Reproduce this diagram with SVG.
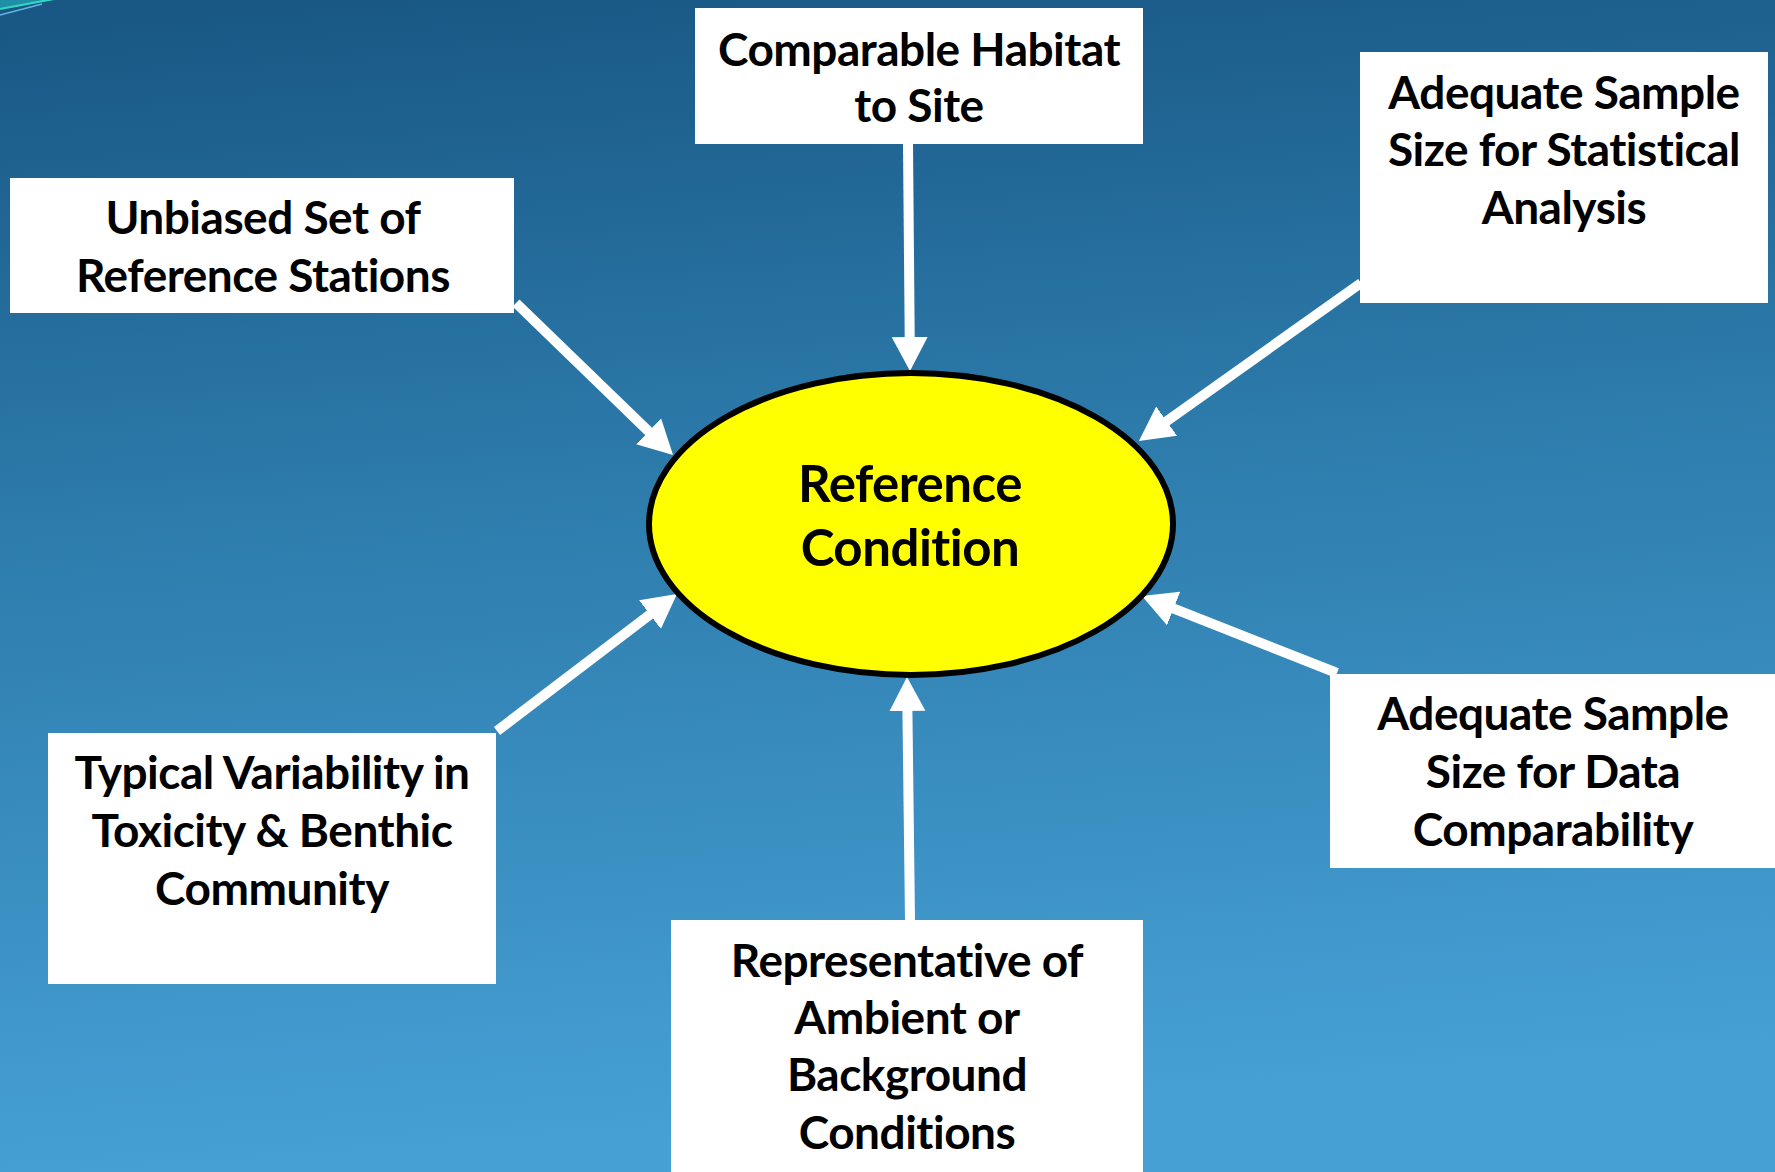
<svg xmlns="http://www.w3.org/2000/svg" width="1775" height="1172" viewBox="0 0 1775 1172">
  <defs>
    <linearGradient id="bg" x1="0" y1="0" x2="0.12" y2="1">
      <stop offset="0" stop-color="#185683"/>
      <stop offset="0.45" stop-color="#2d7cac"/>
      <stop offset="1" stop-color="#46a0d4"/>
    </linearGradient>
    <marker id="head" markerUnits="userSpaceOnUse" markerWidth="36" markerHeight="38" refX="10" refY="19" orient="auto">
      <path d="M0,1 L34,19 L0,37 Z" fill="#ffffff"/>
    </marker>
    <style>
      .box { fill: #ffffff; }
      .lbl { font-family: Lato, "Open Sans", "Liberation Sans", sans-serif; font-weight: 700; font-size: 46px; letter-spacing: -0.5px; font-variant-ligatures: none; fill: #000000; text-anchor: middle; }
      .big { font-size: 51px; }
      .arr { stroke: #ffffff; stroke-width: 10; fill: none; marker-end: url(#head); }
    </style>
  </defs>

  <rect x="0" y="0" width="1775" height="1172" fill="url(#bg)"/>
  <path d="M0,0 L52,0 L0,9 Z" fill="#1f8fa8"/>
  <line x1="0" y1="9" x2="54" y2="-1" stroke="#33d6c2" stroke-width="2.2"/>
  <line x1="0" y1="15" x2="42" y2="4" stroke="#63b6e0" stroke-width="1.6"/>

  <g id="connectors">
    <line class="arr" x1="908" y1="144" x2="909.8" y2="347"/>
    <line class="arr" x1="516" y1="303" x2="655.8" y2="438.3"/>
    <line class="arr" x1="1361" y1="283" x2="1158.5" y2="427"/>
    <line class="arr" x1="1337" y1="673" x2="1164.3" y2="604.8"/>
    <line class="arr" x1="497" y1="731" x2="657.9" y2="608.5"/>
    <line class="arr" x1="910" y1="920" x2="907.3" y2="701"/>
  </g>

  <g id="reference-condition">
    <ellipse cx="911" cy="524" rx="262" ry="151" fill="#ffff00" stroke="#000000" stroke-width="6"/>
    <text class="lbl big" x="910" y="502">Reference</text>
    <text class="lbl big" x="910" y="566">Condition</text>
  </g>

  <g id="comparable-habitat">
    <rect class="box" x="695" y="8" width="448" height="136"/>
    <text class="lbl" x="919" y="66">Comparable Habitat</text>
    <text class="lbl" x="919" y="122">to Site</text>
  </g>

  <g id="unbiased-set">
    <rect class="box" x="10" y="178" width="504" height="135"/>
    <text class="lbl" x="263" y="234">Unbiased Set of</text>
    <text class="lbl" x="263" y="292">Reference Stations</text>
  </g>

  <g id="sample-size-statistical">
    <rect class="box" x="1360" y="52" width="408" height="251"/>
    <text class="lbl" x="1564" y="109">Adequate Sample</text>
    <text class="lbl" x="1564" y="166">Size for Statistical</text>
    <text class="lbl" x="1564" y="224">Analysis</text>
  </g>

  <g id="sample-size-data">
    <rect class="box" x="1330" y="674" width="445" height="194"/>
    <text class="lbl" x="1553" y="730">Adequate Sample</text>
    <text class="lbl" x="1553" y="788">Size for Data</text>
    <text class="lbl" x="1553" y="846">Comparability</text>
  </g>

  <g id="typical-variability">
    <rect class="box" x="48" y="733" width="448" height="251"/>
    <text class="lbl" x="272" y="789">Typical Variability in</text>
    <text class="lbl" x="272" y="847">Toxicity &amp; Benthic</text>
    <text class="lbl" x="272" y="905">Community</text>
  </g>

  <g id="representative">
    <rect class="box" x="671" y="920" width="472" height="252"/>
    <text class="lbl" x="907" y="977">Representative of</text>
    <text class="lbl" x="907" y="1034">Ambient or</text>
    <text class="lbl" x="907" y="1091">Background</text>
    <text class="lbl" x="907" y="1149">Conditions</text>
  </g>
</svg>
